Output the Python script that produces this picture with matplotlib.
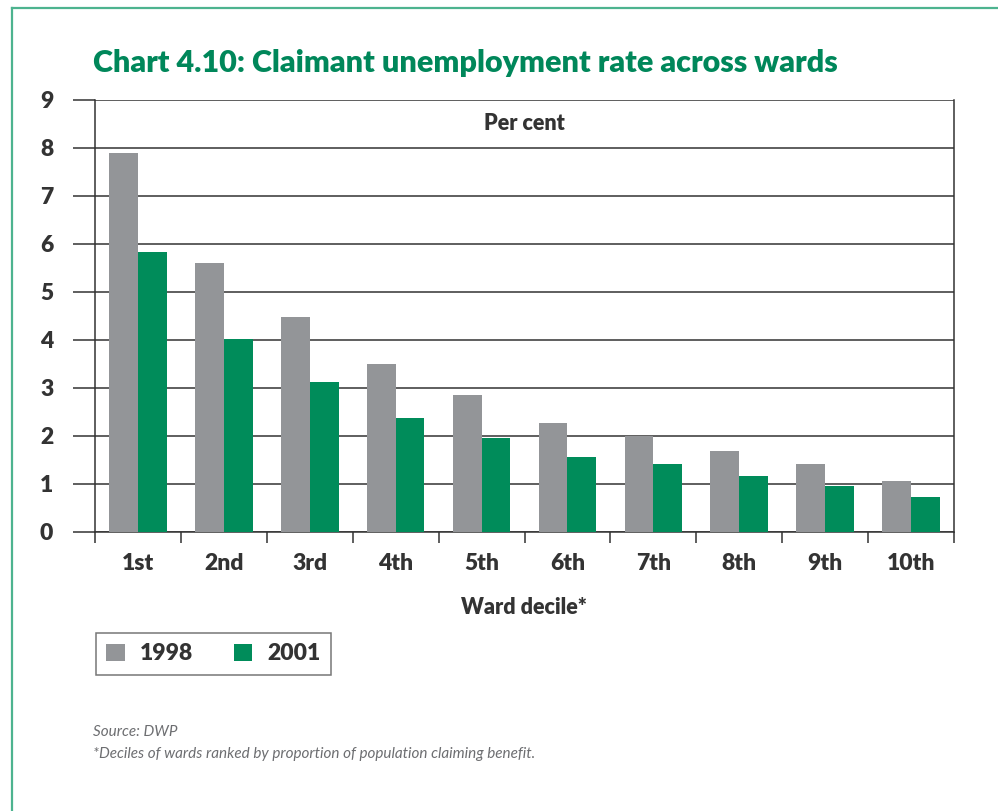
import matplotlib
matplotlib.use("Agg")
import matplotlib.pyplot as plt
from matplotlib.patches import Patch
from matplotlib.lines import Line2D

# Claimant unemployment rate (per cent) by ward decile
deciles = ["1st", "2nd", "3rd", "4th", "5th", "6th", "7th", "8th", "9th", "10th"]
rate_1998 = [7.90, 5.61, 4.48, 3.50, 2.86, 2.28, 2.00, 1.69, 1.42, 1.07]
rate_2001 = [5.84, 4.02, 3.13, 2.38, 1.96, 1.57, 1.42, 1.17, 0.96, 0.73]
years = ["1998", "2001"]
y_ticks = list(range(10))

GREY = "#939598"
GREEN = "#008c5a"
TITLE_GREEN = "#00875a"
INK = "#333333"
NOTE = "#6d6e71"
FONT = "Lato"
HEAVY = "heavy"

W, H = 998, 811
fig = plt.figure(figsize=(W / 100, H / 100), dpi=100)

def fx(px):
    return px / W

def fy(px):
    return 1 - px / H

# outer frame (top and left edges visible)
fig.add_artist(Line2D([fx(12), 1.0], [fy(8), fy(8)], color="#4db38f", lw=1.6))
fig.add_artist(Line2D([fx(12), fx(12)], [fy(8), 0.0], color="#4db38f", lw=1.6))

ax = fig.add_axes([fx(95), fy(532), fx(954) - fx(95), fy(100) - fy(532)])

x = list(range(len(deciles)))
bw = 0.335
ax.bar([i - bw / 2 for i in x], rate_1998, width=bw, color=GREY, zorder=3)
ax.bar([i + bw / 2 for i in x], rate_2001, width=bw, color=GREEN, zorder=3)

ax.set_xlim(-0.5, 9.5)
ax.set_ylim(0, 9)

ax.set_yticks(y_ticks)
ax.set_yticklabels([str(t) for t in y_ticks])
ax.grid(axis="y", color=INK, lw=1.1, zorder=1)
ax.tick_params(axis="y", length=16, width=1.1, color=INK, pad=14, labelsize=16.5)

ax.set_xticks(x)
ax.set_xticklabels(deciles)
ax.set_xticks([i - 0.5 for i in range(len(deciles) + 1)], minor=True)
ax.tick_params(axis="x", which="major", length=0, pad=15, labelsize=16.5)
ax.tick_params(axis="x", which="minor", length=8, width=1.1, color=INK)

for lab in ax.get_xticklabels() + ax.get_yticklabels():
    lab.set_fontfamily(FONT)
    lab.set_fontweight(HEAVY)
    lab.set_color(INK)

ax.spines["top"].set_visible(False)
for side in ["left", "right", "bottom"]:
    ax.spines[side].set_color(INK)
    ax.spines[side].set_linewidth(1.1)

ax.text(0.5, 0.945, "Per cent", transform=ax.transAxes, ha="center", va="center",
        fontsize=15.5, fontweight=HEAVY, family=FONT, color=INK)

fig.text(fx(524), fy(608), "Ward decile*", ha="center", va="center",
         fontsize=15.5, fontweight=HEAVY, family=FONT, color=INK)

fig.text(fx(93), fy(72), "Chart 4.10: Claimant unemployment rate across wards",
         ha="left", va="baseline", fontsize=22, fontweight=HEAVY, family=FONT,
         color=TITLE_GREEN)

handles = [Patch(facecolor=GREY, edgecolor="none"), Patch(facecolor=GREEN, edgecolor="none")]
leg = fig.legend(handles, years, loc="upper left", bbox_to_anchor=(fx(96), fy(633)),
                 ncol=2, frameon=True, fancybox=False, borderaxespad=0,
                 handlelength=0.8, handleheight=0.8, handletextpad=0.65,
                 columnspacing=1.8, borderpad=0.45,
                 prop={"family": FONT, "weight": HEAVY, "size": 16.5})
leg.get_frame().set_edgecolor("#555555")
leg.get_frame().set_linewidth(1.1)
for t in leg.get_texts():
    t.set_color(INK)

fig.text(fx(93), fy(732), "Source: DWP", ha="left", va="center", fontsize=11,
         style="italic", family=FONT, color=NOTE)
fig.text(fx(93), fy(754), "*Deciles of wards ranked by proportion of population claiming benefit.",
         ha="left", va="center", fontsize=11, style="italic",
         family=FONT, color=NOTE)

fig.savefig("out.png", dpi=100, facecolor="white")
